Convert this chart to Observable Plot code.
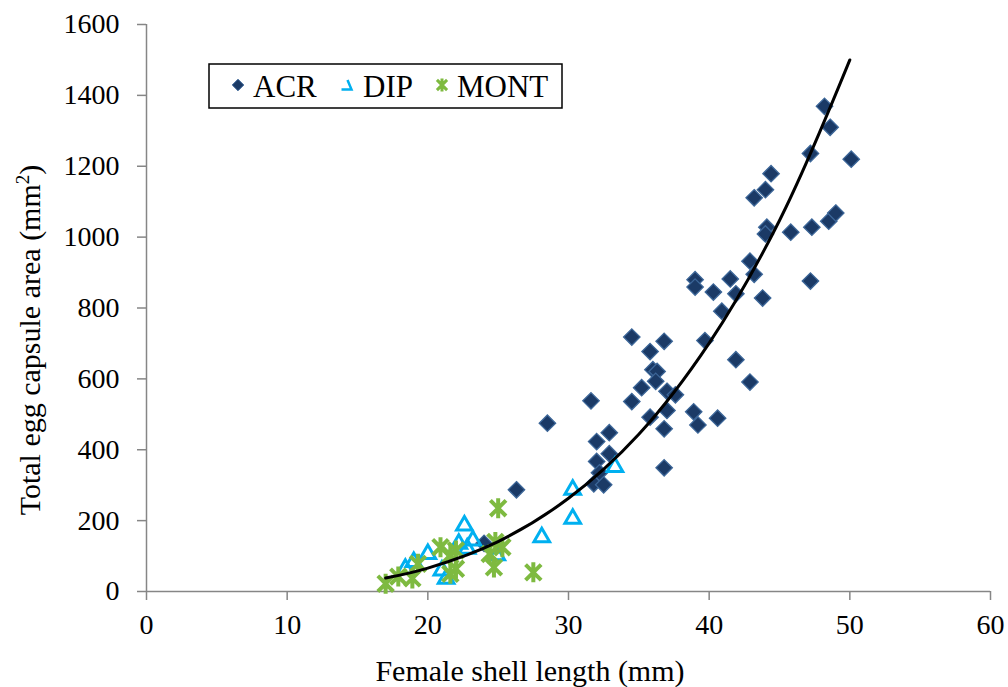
<!DOCTYPE html>
<html><head><meta charset="utf-8">
<script src="https://cdn.jsdelivr.net/npm/d3@7"></script>
<script src="https://cdn.jsdelivr.net/npm/@observablehq/plot@0.6"></script>
<style>
body{margin:0;background:#fff}
#chart{width:1008px;height:687px;overflow:hidden}
#chart svg, #chart svg text { font-family: "Liberation Serif", "DejaVu Serif", serif !important; }
</style>
</head><body><div id="chart"></div>
<script>
// ACR (diamonds)
const acrX = [48.2,48.6,47.2,50.1,44.4,44.0,43.2,44.1,44.0,45.8,47.3,48.5,49.0,42.9,43.2,39.0,39.0,41.5,40.3,41.9,43.8,47.2,40.9,39.7,41.9,42.9,38.9,39.2,40.6,34.5,36.8,35.8,36.0,36.3,36.2,35.2,37.0,37.6,31.6,34.5,35.8,37.0,36.8,28.5,32.9,32.0,32.9,32.0,32.2,31.8,32.5,36.8,26.3,24.0];
const acrY = [1369,1310,1236,1220,1179,1134,1111,1028,1009,1014,1028,1045,1068,932,895,880,859,882,845,840,828,876,791,708,654,591,507,470,489,718,706,677,626,621,593,575,565,555,538,536,492,511,459,475,448,423,389,367,335,304,301,349,287,136];
// DIP (open triangles)
const dipX = [33.3,30.3,30.3,28.1,22.6,23.2,22.2,20.0,19.0,18.4,21.0,21.3,24.9,22.8];
const dipY = [351,287,205,153,186,144,135,106,83,64,59,36,102,121];
// MONT (stars)
const montX = [17.0,17.9,18.9,19.3,20.9,21.6,22.0,21.6,25.0,24.8,25.3,24.4,24.7,27.5,22.0];
const montY = [22,42,37,78,125,103,64,50,235,140,125,106,68,54,116];
// Power trendline
const trendX = [17,20,25,30,35,40,45,50];
const trendY = [38,66,141,263,444,701,1047,1500];
// Axis ticks
const xTicks = [0,10,20,30,40,50,60];
const yTicks = [0,200,400,600,800,1000,1200,1400,1600];
const seriesNames = ["ACR","DIP","MONT"];

const zip = (xs, ys) => xs.map((x, i) => ({x, y: ys[i]}));
const acr = zip(acrX, acrY), dip = zip(dipX, dipY), mont = zip(montX, montY), trend = zip(trendX, trendY);

const star = {
  draw(ctx, size) {
    const h = Math.sqrt(size / Math.PI), d = h * 0.78;
    ctx.moveTo(0, -h); ctx.lineTo(0, h);
    ctx.moveTo(-d, -d); ctx.lineTo(d, d);
    ctx.moveTo(-d, d); ctx.lineTo(d, -d);
  }
};

const font = "Liberation Serif, DejaVu Serif, serif";
const axisGray = "#868686";
const acrFill = "#1B3A66", acrStroke = "#3C6698", dipColor = "#00B0F0", montColor = "#7EBA40";

const svg = Plot.plot({
  width: 1008, height: 687,
  marginLeft: 146, marginRight: 18, marginTop: 24, marginBottom: 96,
  style: {fontFamily: font, background: "#fff", color: "#000", overflow: "visible"},
  x: {domain: [0, 60]},
  y: {domain: [0, 1600]},
  marks: [
    Plot.axisX({ticks: xTicks, tickSize: 9, tickPadding: 14, fontSize: 28, stroke: axisGray, strokeWidth: 1.5, label: null, tickFormat: d3.format("d")}),
    Plot.axisY({ticks: yTicks, tickSize: 9, tickPadding: 18, fontSize: 28, stroke: axisGray, strokeWidth: 1.5, label: null, tickFormat: d3.format("d")}),
    Plot.ruleX([0], {stroke: axisGray, strokeWidth: 1.5}),
    Plot.ruleY([0], {stroke: axisGray, strokeWidth: 1.5}),
    Plot.dot(acr, {x: "x", y: "y", symbol: "diamond2", r: 7.4, fill: acrFill, stroke: acrStroke, strokeWidth: 1.3}),
    Plot.dot(dip, {x: "x", y: "y", symbol: "triangle", r: 5.8, fill: "none", stroke: dipColor, strokeWidth: 3}),
    Plot.dot(mont, {x: "x", y: "y", symbol: star, r: 10, stroke: montColor, strokeWidth: 4}),
    Plot.line(trend, {x: "x", y: "y", curve: "catmull-rom", stroke: "#000", strokeWidth: 3})
  ]
});

const s = d3.select(svg);
// Axis titles
s.append("text").attr("x", 530).attr("y", 681).attr("text-anchor", "middle")
  .attr("font-family", font).attr("font-size", 30).attr("fill", "#000")
  .text("Female shell length (mm)");
const yt = s.append("text").attr("transform", "translate(40,340) rotate(-90)").attr("text-anchor", "middle")
  .attr("font-family", font).attr("font-size", 30).attr("fill", "#000");
yt.append("tspan").text("Total egg capsule area (mm");
yt.append("tspan").attr("font-size", 19).attr("dy", -11).text("2");
yt.append("tspan").attr("dy", 11).text(")");

// Legend
const lg = s.append("g");
lg.append("rect").attr("x", 209).attr("y", 64).attr("width", 353).attr("height", 44)
  .attr("fill", "#fff").attr("stroke", "#000").attr("stroke-width", 1.5);
lg.append("path").attr("d", d3.symbol(d3.symbolDiamond2, Math.PI * 5.2 * 5.2)()).attr("transform", "translate(238,85)")
  .attr("fill", acrFill).attr("stroke", acrStroke).attr("stroke-width", 1);
lg.append("path").attr("d", "M347.5,80 L351.5,89.5 L341.5,89.5").attr("fill", "none").attr("stroke", dipColor).attr("stroke-width", 2.5);
const sp = d3.path(); star.draw(sp, Math.PI * 6.5 * 6.5);
lg.append("path").attr("d", sp.toString())
  .attr("transform", "translate(442,85)").attr("fill", "none").attr("stroke", montColor).attr("stroke-width", 3);
const lx = [253, 363, 457];
seriesNames.forEach((n, i) => {
  lg.append("text").attr("x", lx[i]).attr("y", 97).attr("text-anchor", "start")
    .attr("font-family", font).attr("font-size", 31).attr("fill", "#000").text(n);
});

document.getElementById("chart").appendChild(svg);
</script>
</body></html>
